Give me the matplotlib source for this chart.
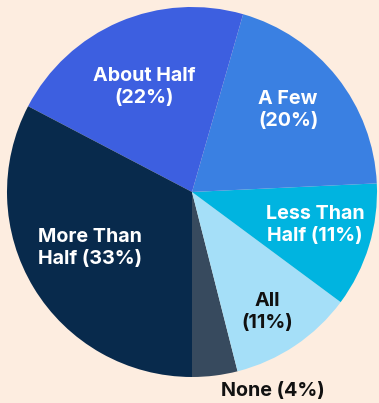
import matplotlib
matplotlib.use("Agg")
import matplotlib.pyplot as plt

# Share of work by category
categories = ["None", "All", "Less Than\nHalf", "A Few", "About Half", "More Than\nHalf"]
values = [4, 11, 11, 20, 22, 33]
colors = ["#374A5E", "#A5DFF8", "#00B4E0", "#3A80E2", "#3D5FE0", "#082A4C"]
text_colors = ["#111111", "#111111", "white", "white", "white", "white"]

# label centres in pixels (x, y from top) for each category
label_px = [(273, 391), (267, 312), (315, 225), (288, 110), (144, 87), (90, 248)]

W, H = 379, 403
cx, cy, R = 192, 192, 185
bg = "#FDEDE0"

fig = plt.figure(figsize=(W / 100, H / 100), dpi=100, facecolor=bg)
ax = fig.add_axes([0, 0, 1, 1])
ax.set_facecolor(bg)

ax.pie(values, colors=colors, startangle=-90, counterclock=True,
       radius=1.0, center=(0, 0), wedgeprops=dict(linewidth=0))

ax.set_xlim(-cx / R, (W - cx) / R)
ax.set_ylim(-(H - cy) / R, cy / R)
ax.set_aspect("auto")
ax.axis("off")

for cat, val, tc, (px, py) in zip(categories, values, text_colors, label_px):
    if cat == "None" or "\n" in cat:
        txt = f"{cat} ({val}%)"
    else:
        txt = f"{cat}\n({val}%)"
    ax.text((px - cx) / R, (cy - py) / R, txt, ha="center", va="center",
            color=tc, fontsize=14.2, fontweight="bold", family="Inter",
            linespacing=1.22)

fig.savefig("out.png", dpi=100, facecolor=bg)
